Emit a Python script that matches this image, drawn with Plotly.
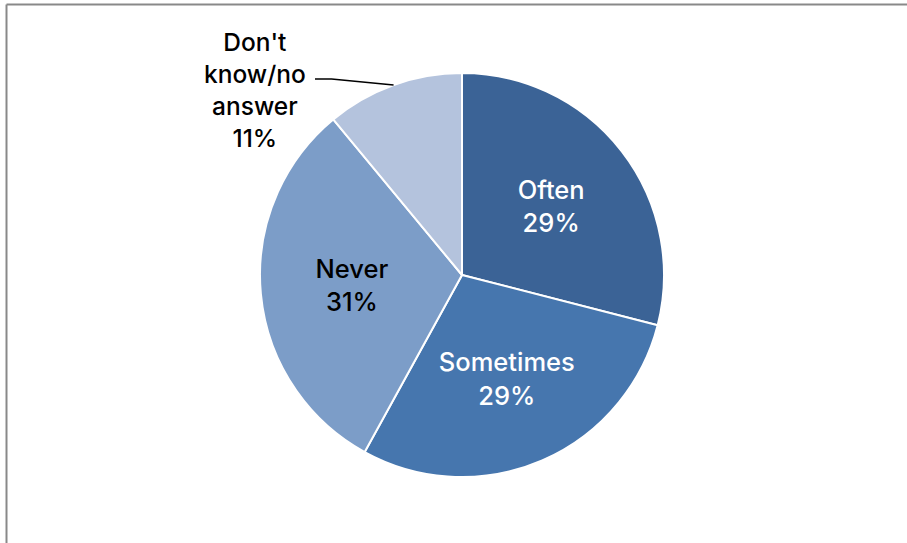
import math
import plotly.graph_objects as go

# ---- data ----
categories = ["Often", "Sometimes", "Never", "Don't know/no answer"]
values = [29, 29, 31, 11]
slice_colors = ["#3b6396", "#4676ae", "#7c9dc8", "#b4c3dd"]
label_colors = ["white", "white", "black", "black"]

W, H = 907, 543
cx, cy, R = 462, 275, 202  # pie center / radius in px

font_family = "Inter, Liberation Sans, Arial, sans-serif"
fsize = 25.5

fig = go.Figure()
fig.add_trace(go.Pie(
    labels=categories,
    values=values,
    sort=False,
    direction="clockwise",
    rotation=0,
    marker=dict(colors=slice_colors, line=dict(color="white", width=2)),
    texttemplate=["%{label}<br>%{value}%"] * 3 + [""],
    textposition=["inside", "inside", "inside", "none"],
    insidetextorientation="horizontal",
    insidetextfont=dict(family=font_family, size=fsize, color=label_colors, weight=500),
    hoverinfo="label+value",
    showlegend=False,
    domain=dict(x=[(cx - R) / W, (cx + R) / W], y=[1 - (cy + R) / H, 1 - (cy - R) / H]),
))

# outside label for the small slice, with a leader line to the slice's mid-angle on the rim
total = sum(values)
start = sum(values[:3]) / total
mid = (start + values[3] / total / 2) * 2 * math.pi
ex = cx + R * math.sin(mid)
ey = cy - R * math.cos(mid)
lx, ly = 255, 90  # label block centre
elbow_x = ex - 62

def px(x):
    return x / W

def py(y):
    return 1 - y / H

fig.add_annotation(
    x=px(lx), y=py(ly), xref="paper", yref="paper",
    xanchor="center", yanchor="middle",
    text="Don't<br>know/no<br>answer<br>" + f"{values[3]}%",
    showarrow=False, align="center",
    font=dict(family=font_family, size=fsize - 1, color="black", weight=500),
)
fig.add_shape(
    type="path", xref="paper", yref="paper",
    path=f"M {px(315)} {py(79)} L {px(elbow_x)} {py(79)} L {px(ex)} {py(ey)}",
    line=dict(color="black", width=1.5),
)

# frame lines (top and left)
fig.add_shape(type="line", xref="paper", yref="paper", x0=px(6.5), x1=1, y0=py(4.5), y1=py(4.5),
              line=dict(color="#898989", width=2))
fig.add_shape(type="line", xref="paper", yref="paper", x0=px(6.5), x1=px(6.5), y0=py(4.5), y1=0,
              line=dict(color="#898989", width=2))

fig.update_layout(
    width=W, height=H,
    margin=dict(l=0, r=0, t=0, b=0),
    paper_bgcolor="white", plot_bgcolor="white",
    uniformtext=dict(minsize=10),
)

fig.write_html("out.html")
